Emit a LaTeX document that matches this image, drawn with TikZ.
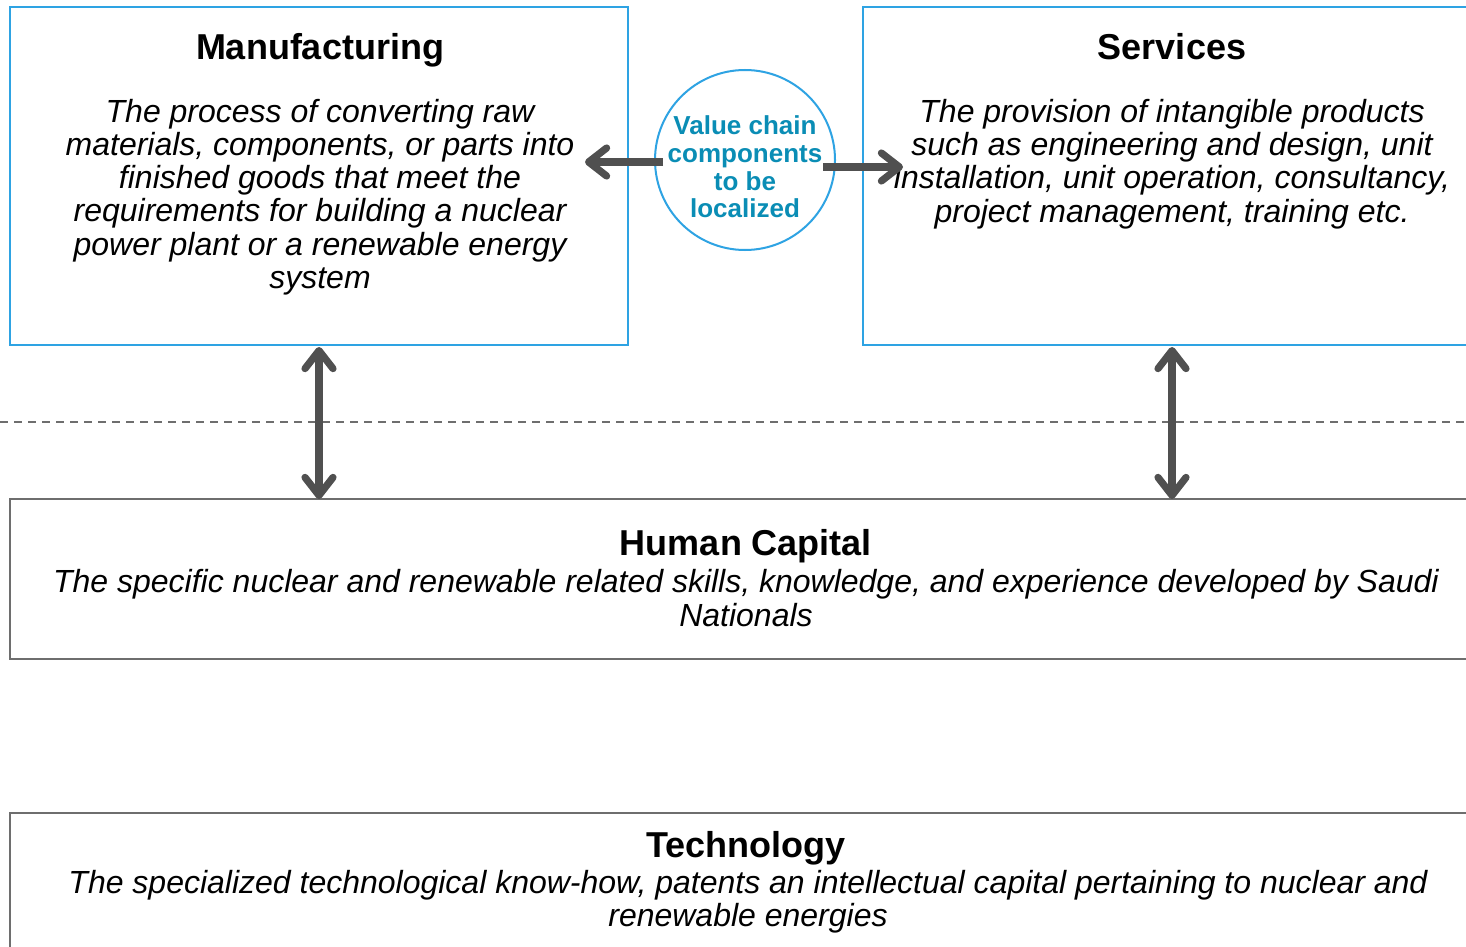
\documentclass[tikz,border=0pt]{standalone}
\usepackage{fontspec}
\setmainfont{Liberation Sans}
\usetikzlibrary{arrows.meta}
\definecolor{bblue}{HTML}{2EA3E3}
\definecolor{teal}{HTML}{0A8DB5}
\definecolor{agray}{HTML}{505050}
\definecolor{lgray}{HTML}{6E6E6E}
\tikzset{
  bluebox/.style={draw=bblue, line width=1pt, fill=white, inner sep=0pt, outer sep=0pt, anchor=north west},
  graybox/.style={draw=lgray, line width=1pt, fill=white, inner sep=0pt, outer sep=0pt, anchor=north west},
  ttl/.style={font=\fontsize{18}{20}\selectfont\bfseries, inner sep=0pt, anchor=base},
  body/.style={font=\fontsize{16}{16.6}\selectfont\itshape, align=center, inner sep=0pt},
  ctext/.style={font=\fontsize{13}{13.8}\selectfont\bfseries, text=teal, align=center, inner sep=0pt},
  bigarrow/.style={draw=agray, line width=3.6pt, {Straight Barb[length=9pt,width=14pt,round]}-{Straight Barb[length=9pt,width=14pt,round]}},
  onearrow/.style={draw=agray, line width=3.6pt, -{Straight Barb[length=9pt,width=14pt,round]}}
}
\begin{document}
\begin{tikzpicture}[x=0.5pt,y=-0.5pt]
\clip (0,0) rectangle (1466,947);
\fill[white] (0,0) rectangle (1466,947);
% dashed separator
\coordinate (dl) at (0,422);
\coordinate (dr) at (1466,422);
\draw[lgray, line width=1pt, dash pattern=on 4pt off 3pt] (dl) -- (dr);
% boxes
\node[bluebox, minimum width=309pt, minimum height=169pt] (mfg) at (10,7) {};
\node[bluebox, minimum width=310pt, minimum height=169pt] (srv) at (863,7) {};
\node[graybox, minimum width=735pt, minimum height=80pt] (hc) at (10,499) {};
\node[graybox, minimum width=735pt, minimum height=75pt] (tech) at (10,813) {};
% texts
\node[ttl] (mfgt) at (320,60) {Manufacturing};
\node[body] (mfgb) at (320,197) {The process of converting raw\\materials, components, or parts into\\finished goods that meet the\\requirements for building a nuclear\\power plant or a renewable energy\\system};
\node[ttl] (srvt) at (1172,60) {Services};
\node[body] (srvb) at (1172,164) {The provision of intangible products\\such as engineering and design, unit\\installation, unit operation, consultancy,\\project management, training etc.};
\node[ttl] (hct) at (746,555) {Human Capital};
\node[body] (hcb) at (746,598) {The specific nuclear and renewable related skills, knowledge, and experience developed by Saudi\\Nationals};
\node[ttl] (techt) at (746,857) {Technology};
\node[body] (techb) at (748,902) {The specialized technological know-how, patents an intellectual capital pertaining to nuclear and\\renewable energies};
% circle
\node[circle, draw=bblue, line width=1pt, fill=white, minimum size=90pt, inner sep=0pt] (vc) at (745,160) {};
\coordinate (la) at (663,162);
\coordinate (lb) at (585,162);
\coordinate (ra) at (823,167);
\coordinate (rb) at (903,167);
\draw[onearrow] (la) -- (lb);
\draw[onearrow] (ra) -- (rb);
\node[ctext] (vct) at (745,167) {Value chain\\components\\to be\\localized};
% vertical arrows
\coordinate (m1) at (319,347);
\coordinate (s1) at (1172,347);
\draw[bigarrow] (m1) -- (m1 |- hc.north);
\draw[bigarrow] (s1) -- (s1 |- hc.north);
\end{tikzpicture}
\end{document}
